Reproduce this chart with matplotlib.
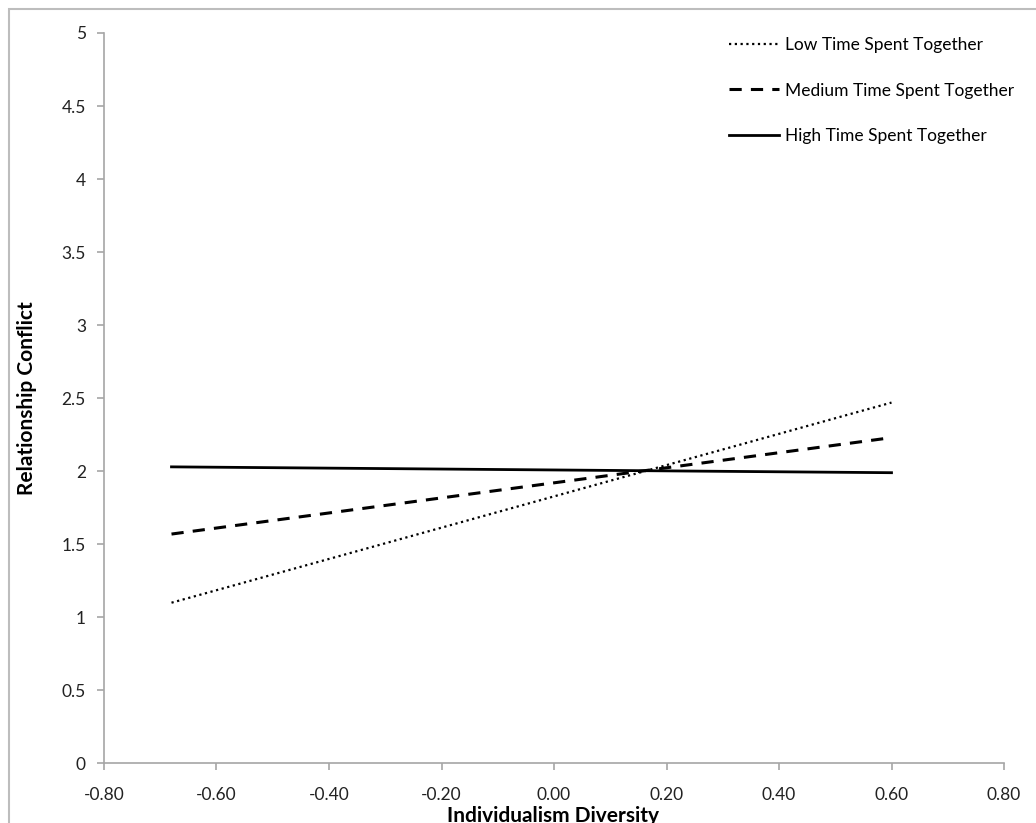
import matplotlib
matplotlib.use("Agg")
import matplotlib.pyplot as plt
from matplotlib.patches import Rectangle

# simple slopes: x = individualism diversity, y = relationship conflict
x_vals = [-0.68, 0.60]
low_time = [1.10, 2.47]
medium_time = [1.57, 2.23]
high_time = [2.03, 1.99]
series_labels = ["Low Time Spent Together", "Medium Time Spent Together",
                 "High Time Spent Together"]
x_ticks = [-0.8, -0.6, -0.4, -0.2, 0.0, 0.2, 0.4, 0.6, 0.8]
y_ticks = [0, 0.5, 1, 1.5, 2, 2.5, 3, 3.5, 4, 4.5, 5]

plt.rcParams['font.family'] = ['Lato', 'DejaVu Sans']
W, H = 1036, 823
fig = plt.figure(figsize=(W / 100, H / 100), dpi=100)
ax = fig.add_axes([104 / W, 1 - 763.4 / H, 900 / W, (763.4 - 33) / H])

# outer chart border (cut off on right and bottom)
fig.patches.append(Rectangle((9 / W, -0.1), 1.2, 1.1 - 9 / H, transform=fig.transFigure,
                             fill=False, edgecolor="#bdbdbd", linewidth=1.5))

ax.plot(x_vals, low_time, color="black", lw=1.6, linestyle=(0, (1, 1.6)),
        label=series_labels[0])
ax.plot(x_vals, medium_time, color="black", lw=2.2, linestyle=(0, (4, 3)),
        label=series_labels[1])
ax.plot(x_vals, high_time, color="black", lw=2.0, label=series_labels[2])

ax.set_xlim(-0.8, 0.8)
ax.set_ylim(0, 5)
ax.set_xticks(x_ticks)
ax.set_xticklabels([f"{v:.2f}" for v in x_ticks])
ax.set_yticks(y_ticks)
ax.set_yticklabels([f"{v:g}" for v in y_ticks])
for s in ["top", "right"]:
    ax.spines[s].set_visible(False)
for s in ["left", "bottom"]:
    ax.spines[s].set_color("#a6a6a6")
    ax.spines[s].set_linewidth(1.2)
ax.tick_params(axis="both", colors="#a6a6a6", length=5, width=1.2,
               labelsize=12.5, labelcolor="#222222")
ax.tick_params(axis="x", pad=12)
ax.tick_params(axis="y", pad=8)

ax.set_xlabel("Individualism Diversity", fontsize=15, fontweight="bold")
ax.xaxis.set_label_coords(0.499, -0.059)
ax.set_ylabel("Relationship Conflict", fontsize=15, fontweight="bold")
ax.yaxis.set_label_coords(-0.074, 0.5)

ax.legend(loc="upper left", bbox_to_anchor=(729 / W, 1 - 37 / H),
          bbox_transform=fig.transFigure, frameon=False, fontsize=12.5,
          handlelength=2.9, handletextpad=0.3, labelspacing=1.7, borderpad=0,
          borderaxespad=0)

fig.savefig("out.png", dpi=100)
